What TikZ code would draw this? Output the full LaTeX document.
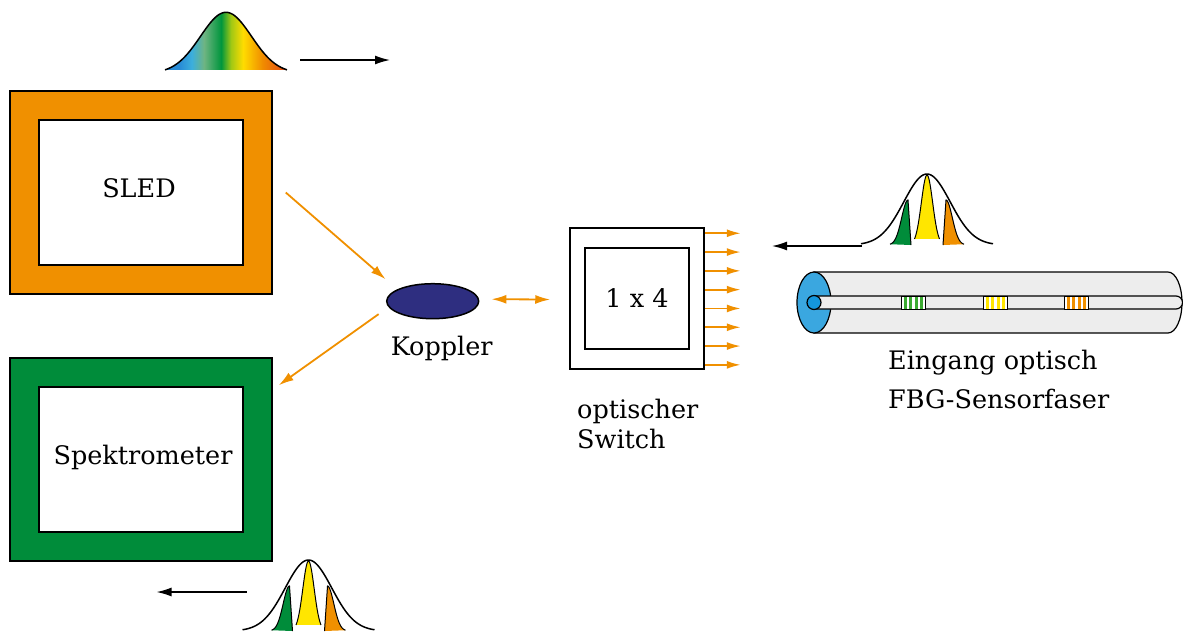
\documentclass[tikz,border=0pt]{standalone}
\usepackage{fontspec}
\setmainfont{DejaVu Serif}
\usetikzlibrary{arrows.meta,shapes.geometric}

\definecolor{sledorange}{RGB}{240,144,0}
\definecolor{spekgreen}{RGB}{0,140,58}
\definecolor{kopplerblue}{RGB}{46,46,128}
\definecolor{fiberblue}{RGB}{58,167,224}
\definecolor{coreblue}{RGB}{20,150,220}
\definecolor{fibergrey}{RGB}{237,237,237}
\definecolor{peakgreen}{RGB}{0,140,58}
\definecolor{peakyellow}{RGB}{255,230,0}
\definecolor{peakorange}{RGB}{240,144,0}
\definecolor{gratgreen}{RGB}{60,170,50}
\definecolor{gratyellow}{RGB}{255,230,0}
\definecolor{gratorange}{RGB}{240,144,0}
% broadband source spectrum
\definecolor{specblue}{RGB}{40,140,215}
\definecolor{speccyan}{RGB}{60,175,220}
\definecolor{specsage}{RGB}{110,180,130}
\definecolor{specgreen}{RGB}{0,150,60}
\definecolor{speclime}{RGB}{160,200,20}
\definecolor{specyellow}{RGB}{255,220,0}
\definecolor{specorange}{RGB}{240,140,0}
\definecolor{specred}{RGB}{230,70,20}
\pgfdeclarehorizontalshading{spectrum}{100bp}{color(0bp)=(specblue); color(25bp)=(specblue);
  color(31bp)=(specblue); color(36bp)=(speccyan); color(41bp)=(specsage); color(48bp)=(specgreen);
  color(52bp)=(speclime); color(57bp)=(specyellow); color(65bp)=(specorange); color(75bp)=(specred);
  color(100bp)=(specred)}

% reflected FBG peaks under the envelope, #1/#2 = centre of the base
\newcommand{\fbgpeaks}[2]{%
  \begin{scope}[shift={(#1,#2)}, line width=1pt]
    \fill[peakgreen] plot[domain=-18:0, samples=30] ({\x-19},{-45*exp(-(\x*\x)/80)}) -- (-16,0) -- cycle;
    \draw plot[domain=-18:0, samples=30] ({\x-19},{-45*exp(-(\x*\x)/80)}) -- (-16,0);
    \fill[peakyellow] plot[domain=-12.5:12.5, samples=40] (\x,{-70*exp(-(\x*\x)/64)}) -- cycle;
    \draw plot[domain=-12.5:12.5, samples=40] (\x,{-70*exp(-(\x*\x)/64)});
    \fill[peakorange] (16,0) -- plot[domain=0:18, samples=30] ({\x+19},{-45*exp(-(\x*\x)/80)}) -- cycle;
    \draw (16,0) -- plot[domain=0:18, samples=30] ({\x+19},{-45*exp(-(\x*\x)/80)});
    \draw[line width=1.5pt] plot[domain=-66:66, samples=90] (\x,{-71*exp(-(\x*\x)/1080)});
  \end{scope}}

\begin{document}
\begin{tikzpicture}[x=1pt,y=-1pt,
    every node/.style={font=\fontsize{25.5}{30}\selectfont},
    box/.style={draw, line width=1.5pt, rectangle, inner sep=0pt},
    label/.style={inner sep=0pt},
    flow/.style={draw=sledorange, line width=1.8pt, -{Latex[length=15pt,width=9pt]}},
    port/.style={draw=sledorange, line width=1.8pt, -{Latex[length=14pt,width=8pt]}},
    signal/.style={draw=black, line width=1.5pt, -{Latex[length=15pt,width=9pt]}}]
\useasboundingbox (0,0) rectangle (1183,633);

% source, spectrometer, coupler, switch
\node[box, fill=sledorange, minimum width=262pt, minimum height=203pt] (sled) at (141,192.5) {};
\node[box, fill=white, minimum width=204pt, minimum height=145pt] (sledcore) at (sled.center) {};
\node[label] (sledtext) at (139,188) {SLED};

\node[box, fill=spekgreen, minimum width=262pt, minimum height=203pt] (spek) at (141,459.5) {};
\node[box, fill=white, minimum width=204pt, minimum height=145pt] (spekcore) at (spek.center) {};
\node[label] (spektext) at (143,457) {Spektrometer};

\node[ellipse, draw, line width=1.5pt, fill=kopplerblue, inner sep=0pt,
      minimum width=92pt, minimum height=35pt] (koppler) at (432.7,301.2) {};
\node[label] (kopplertext) at (441.7,348.3) {Koppler};

\node[box, fill=white, minimum width=134pt, minimum height=141pt] (switch) at (637,298.5) {};
\node[box, fill=white, minimum width=104pt, minimum height=101pt] (switchcore) at (switch.center) {1 x 4};
\node[label, anchor=base west] (switchtext) at (577,418) {optischer};
\node[label, anchor=base west] (switchtext2) at (577,448) {Switch};

% light paths
\path[flow] ([shift={(13,0)}]sled.east) -- ([shift={(-14,-9)}]koppler.north west);
\path[flow] ([shift={(-21,0)}]koppler.south west) -- ([shift={(6,28)}]spek.north east);
\path[draw=sledorange, line width=1.8pt, {Latex[length=15pt,width=9pt]}-{Latex[length=15pt,width=9pt]}]
  ([shift={(12,-2)}]koppler.east) -- ([shift={(-19,1)}]switch.west);
\foreach \i in {0,...,7}
  \path[port] ([shift={(0,{6+18.8*\i})}]switch.north east) -- ++(36,0);

% spectra with direction of travel
\coordinate (sledspec) at (226,73.3);
\shade[shading=spectrum] plot[domain=-61:61, samples=90] ([shift={(\x,{-61*exp(-(\x*\x)/1300)})}]sledspec);
\draw[line width=1.5pt] plot[domain=-61:61, samples=90] ([shift={(\x,{-61*exp(-(\x*\x)/1300)})}]sledspec);
\draw[signal] ([shift={(74,-13.3)}]sledspec) -- ++(90,0);

\coordinate (fbgspec) at (927,245);
\fbgpeaks{927}{245}
\draw[signal] ([shift={(-65,1)}]fbgspec) -- ++(-90,0);

\coordinate (spekspec) at (308.5,631);
\fbgpeaks{308.5}{631}
\draw[signal] ([shift={(-62,-39)}]spekspec) -- ++(-90,0);

% sensor fibre with three gratings
\draw[line width=1.2pt, fill=fibergrey] (814,272) -- (1168,272)
  arc[start angle=-90, end angle=90, x radius=14, y radius=30.5] -- (814,333) -- cycle;
\draw[line width=1.2pt, fill=fiberblue] (814,302.5) ellipse[x radius=17, y radius=30.5];
\draw[line width=1.2pt, fill=fibergrey] (814,296) -- (1176,296)
  arc[start angle=-90, end angle=90, x radius=6.5, y radius=6.5] -- (814,309) -- cycle;
\draw[line width=1.2pt, fill=coreblue] (814,302.5) circle[radius=7];
\foreach \gx/\gc in {901/gratgreen, 983/gratyellow, 1064/gratorange}{
  \fill[white] (\gx,296) rectangle ++(24,13);
  \foreach \b in {2.5,8,13.5,19}
    \fill[\gc] ({\gx+\b},296) rectangle ++(3,13);
  \draw[line width=1pt] (\gx,296) rectangle ++(24,13);
}
\node[label, anchor=base west] (fibertext) at (888,369) {Eingang optisch};
\node[label, anchor=base west] (fibertext2) at (888,408) {FBG-Sensorfaser};
\end{tikzpicture}
\end{document}
